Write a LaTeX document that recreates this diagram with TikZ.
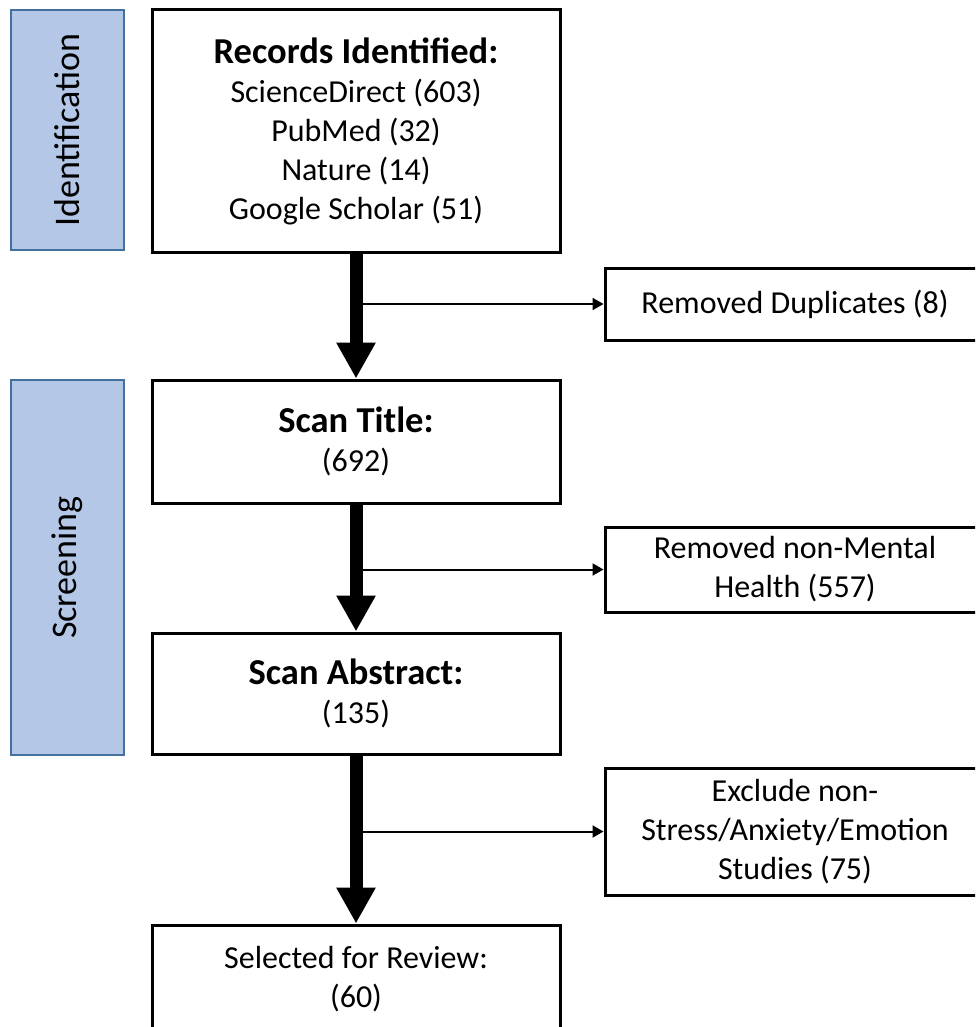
\documentclass[tikz,border=0pt]{standalone}
\usepackage{fontspec}
\setmainfont{Carlito}
\usetikzlibrary{arrows.meta}
\definecolor{phasefill}{HTML}{B4C7E7}
\definecolor{phaseborder}{HTML}{41719C}
\newcommand{\headfont}{\fontsize{36.5}{39}\selectfont\bfseries}
\begin{document}
\begin{tikzpicture}[x=1pt,y=-1pt,
  box/.style={draw=black, line width=3pt, fill=white, align=center,
    font=\fontsize{32}{39}\selectfont, inner sep=0pt},
  phase/.style={draw=phaseborder, fill=phasefill, line width=2pt,
    font=\fontsize{32}{39}\selectfont, inner sep=0pt},
  phasetext/.style={rotate=90, font=\fontsize{36}{40}\selectfont},
  bigarrow/.style={line width=13pt, -{Triangle[width=37pt,length=36pt]}},
  smallarrow/.style={line width=2pt, -{Triangle[width=12pt,length=11pt]}}]
\clip (0,0) rectangle (975,1027);
\fill[white] (0,0) rectangle (975,1027);
% phase labels
\node[phase, minimum width=113pt, minimum height=240pt] (ident) at (67.5,130) {};
\node[phasetext] (identtxt) at (ident.center) {Identification};
\node[phase, minimum width=113pt, minimum height=375pt] (screen) at (67.5,567.5) {};
\node[phasetext] (screentxt) at (screen.center) {Screening};
% main boxes
\node[box, minimum width=408pt, minimum height=242pt] (rec) at (356,131)
  {{\headfont Records Identified:}\\ScienceDirect (603)\\PubMed (32)\\Nature (14)\\Google Scholar (51)};
\node[box, minimum width=408pt, minimum height=123pt] (title) at (356,441.5)
  {{\headfont Scan Title:}\\(692)};
\node[box, minimum width=408pt, minimum height=121pt] (abs) at (356,693.5)
  {{\headfont Scan Abstract:}\\(135)};
\node[box, minimum width=408pt, minimum height=109pt] (sel) at (356,979.5)
  {Selected for Review:\\(60)};
% side boxes
\node[box, minimum width=380pt, minimum height=72pt] (dup) at (795,304)
  {Removed Duplicates (8)};
\node[box, minimum width=380pt, minimum height=85pt] (mh) at (795,569.5)
  {Removed non-Mental\\Health (557)};
\node[box, minimum width=380pt, minimum height=127pt] (exc) at (795,831.5)
  {Exclude non-\\Stress/Anxiety/Emotion\\Studies (75)};
% connectors
\draw[smallarrow] (rec.south |- dup.west) -- (dup.west);
\draw[smallarrow] (title.south |- mh.west) -- (mh.west);
\draw[smallarrow] (abs.south |- exc.west) -- (exc.west);
\draw[bigarrow] (rec) -- (title);
\draw[bigarrow] (title) -- (abs);
\draw[bigarrow] (abs) -- (sel);
\end{tikzpicture}
\end{document}
